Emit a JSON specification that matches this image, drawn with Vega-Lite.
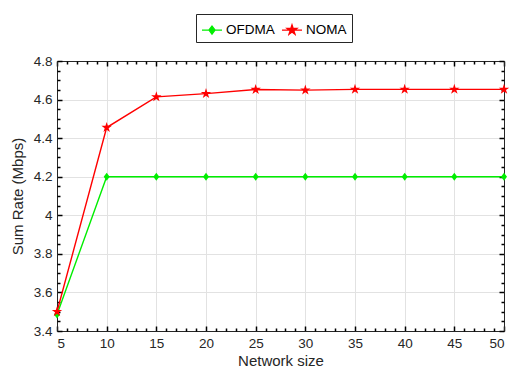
{
  "$schema": "https://vega.github.io/schema/vega-lite/v6.json",
  "width": 447,
  "height": 270,
  "autosize": {"type": "none"},
  "padding": {"left": 57, "top": 61, "right": 8, "bottom": 41},
  "data": {"values": [
    {"n": 5, "series": "OFDMA", "rate": 3.485},
    {"n": 10, "series": "OFDMA", "rate": 4.2},
    {"n": 15, "series": "OFDMA", "rate": 4.2},
    {"n": 20, "series": "OFDMA", "rate": 4.2},
    {"n": 25, "series": "OFDMA", "rate": 4.2},
    {"n": 30, "series": "OFDMA", "rate": 4.2},
    {"n": 35, "series": "OFDMA", "rate": 4.2},
    {"n": 40, "series": "OFDMA", "rate": 4.2},
    {"n": 45, "series": "OFDMA", "rate": 4.2},
    {"n": 50, "series": "OFDMA", "rate": 4.2},
    {"n": 5, "series": "NOMA", "rate": 3.5},
    {"n": 10, "series": "NOMA", "rate": 4.455},
    {"n": 15, "series": "NOMA", "rate": 4.614},
    {"n": 20, "series": "NOMA", "rate": 4.631},
    {"n": 25, "series": "NOMA", "rate": 4.652},
    {"n": 30, "series": "NOMA", "rate": 4.649},
    {"n": 35, "series": "NOMA", "rate": 4.653},
    {"n": 40, "series": "NOMA", "rate": 4.653},
    {"n": 45, "series": "NOMA", "rate": 4.653},
    {"n": 50, "series": "NOMA", "rate": 4.653}
  ]},
  "resolve": {"axis": {"x": "independent", "y": "independent"}},
  "layer": [
    {
      "mark": {"type": "line", "strokeWidth": 1.4},
      "encoding": {
        "x": {"field": "n", "type": "quantitative", "scale": {"domain": [5, 50], "nice": false, "zero": false},
          "axis": {"orient": "bottom", "values": [5, 10, 15, 20, 25, 30, 35, 40, 45, 50], "tickSize": -5, "tickColor": "black", "tickWidth": 1.5, "domain": true, "domainColor": "#262626", "grid": true, "gridColor": "#e2e2e2", "labelPadding": 10, "labelFont": "Liberation Sans", "labelFontSize": 13.5, "labelColor": "#262626", "title": "Network size", "titleFont": "Liberation Sans", "titleFontSize": 15, "titleFontWeight": "normal", "titleColor": "#262626", "titlePadding": 4}},
        "y": {"field": "rate", "type": "quantitative", "scale": {"domain": [3.4, 4.8], "nice": false, "zero": false},
          "axis": {"orient": "left", "values": [3.4, 3.6, 3.8, 4, 4.2, 4.4, 4.6, 4.8], "format": "~g", "tickSize": -5, "tickColor": "black", "tickWidth": 1.5, "domain": true, "domainColor": "#262626", "grid": true, "gridColor": "#e2e2e2", "labelPadding": 10, "labelFont": "Liberation Sans", "labelFontSize": 13.5, "labelColor": "#262626", "title": "Sum Rate (Mbps)", "titleFont": "Liberation Sans", "titleFontSize": 15, "titleFontWeight": "normal", "titleColor": "#262626", "titlePadding": 8}},
        "color": {"field": "series", "type": "nominal", "scale": {"domain": ["OFDMA", "NOMA"], "range": ["#00ee00", "#ff0000"]},
          "legend": {"orient": "none", "legendX": 139, "legendY": -47, "direction": "horizontal", "title": null,
            "strokeColor": "#262626", "fillColor": "#ffffff", "padding": 5, "labelFont": "Liberation Sans", "labelFontSize": 13.5, "labelColor": "#000000",
            "symbolSize": 400, "labelOffset": 3, "columnPadding": 4, "symbolType": "M-1,0H1",
            "encode": {"symbols": {"update": {
              "shape": {"signal": "datum.value === 'NOMA' ? 'M-1,0H1M0,-0.5L0.112,-0.154L0.476,-0.155L0.181,0.059L0.294,0.405L0,0.19L-0.294,0.405L-0.181,0.059L-0.476,-0.155L-0.112,-0.154Z' : 'M-1,0H1M0,-0.4L0.3,0L0,0.4L-0.3,0Z'"},
              "stroke": {"signal": "datum.value === 'NOMA' ? '#ff0000' : '#00ee00'"},
              "fill": {"signal": "datum.value === 'NOMA' ? '#ff0000' : '#00ee00'"},
              "strokeWidth": {"value": 1.4},
              "size": {"value": 400}
            }}}}}
      }
    },
    {
      "transform": [{"filter": "datum.series === 'OFDMA'"}],
      "mark": {"type": "point", "filled": true, "opacity": 1, "size": 400, "color": "#00ee00", "shape": "M0,-0.4L0.3,0L0,0.4L-0.3,0Z"},
      "encoding": {
        "x": {"field": "n", "type": "quantitative", "scale": {"domain": [5, 50], "nice": false, "zero": false},
          "axis": {"orient": "bottom", "values": [6,7,8,9,11,12,13,14,16,17,18,19,21,22,23,24,26,27,28,29,31,32,33,34,36,37,38,39,41,42,43,44,46,47,48,49], "tickSize": -3, "tickColor": "black", "tickWidth": 1.5, "labels": false, "domain": false, "grid": false, "title": null}},
        "y": {"field": "rate", "type": "quantitative", "scale": {"domain": [3.4, 4.8], "nice": false, "zero": false},
          "axis": {"orient": "left", "values": [3.45,3.5,3.55,3.65,3.7,3.75,3.85,3.9,3.95,4.05,4.1,4.15,4.25,4.3,4.35,4.45,4.5,4.55,4.65,4.7,4.75], "tickSize": -3, "tickColor": "black", "tickWidth": 1.5, "labels": false, "domain": false, "grid": false, "title": null}}
      }
    },
    {
      "transform": [{"filter": "datum.series === 'NOMA'"}],
      "mark": {"type": "point", "filled": true, "opacity": 1, "size": 400, "color": "#ff0000", "shape": "M0,-0.55L0.123,-0.169L0.523,-0.17L0.199,0.065L0.323,0.445L0,0.209L-0.323,0.445L-0.199,0.065L-0.523,-0.17L-0.123,-0.169Z"},
      "encoding": {
        "x": {"field": "n", "type": "quantitative", "scale": {"domain": [5, 50], "nice": false, "zero": false},
          "axis": {"orient": "top", "values": [5, 10, 15, 20, 25, 30, 35, 40, 45, 50], "tickSize": -5, "tickColor": "black", "tickWidth": 1.5, "labels": false, "domain": true, "domainColor": "#262626", "grid": false, "title": null}},
        "y": {"field": "rate", "type": "quantitative", "scale": {"domain": [3.4, 4.8], "nice": false, "zero": false},
          "axis": {"orient": "right", "values": [3.4, 3.6, 3.8, 4, 4.2, 4.4, 4.6, 4.8], "tickSize": -5, "tickColor": "black", "tickWidth": 1.5, "labels": false, "domain": true, "domainColor": "#262626", "grid": false, "title": null}}
      }
    },
    {
      "mark": {"type": "point", "opacity": 0},
      "encoding": {
        "x": {"field": "n", "type": "quantitative", "scale": {"domain": [5, 50], "nice": false, "zero": false},
          "axis": {"orient": "top", "values": [6,7,8,9,11,12,13,14,16,17,18,19,21,22,23,24,26,27,28,29,31,32,33,34,36,37,38,39,41,42,43,44,46,47,48,49], "tickSize": -3, "tickColor": "black", "tickWidth": 1.5, "labels": false, "domain": false, "grid": false, "title": null}},
        "y": {"field": "rate", "type": "quantitative", "scale": {"domain": [3.4, 4.8], "nice": false, "zero": false},
          "axis": {"orient": "right", "values": [3.45,3.5,3.55,3.65,3.7,3.75,3.85,3.9,3.95,4.05,4.1,4.15,4.25,4.3,4.35,4.45,4.5,4.55,4.65,4.7,4.75], "tickSize": -3, "tickColor": "black", "tickWidth": 1.5, "labels": false, "domain": false, "grid": false, "title": null}}
      }
    }
  ]
}
